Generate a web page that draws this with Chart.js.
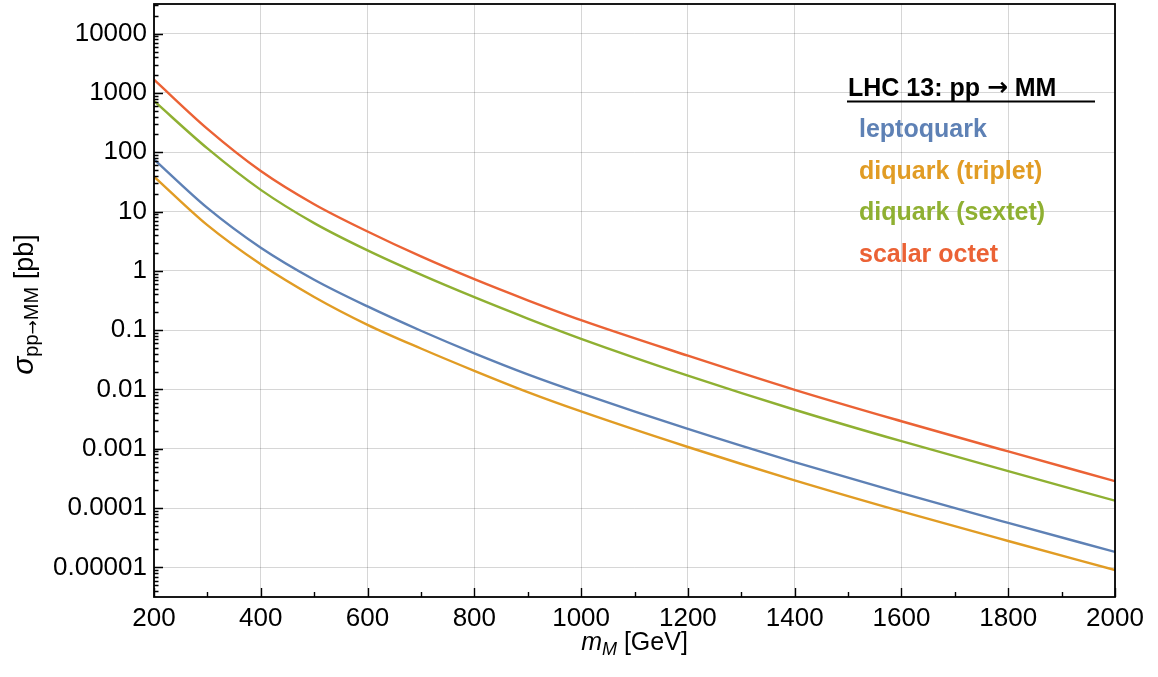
<!DOCTYPE html>
<html lang="en">
<head>
  <meta charset="UTF-8">
  <title>LHC 13: pp → MM</title>
  <style>
    body {
      margin: 0;
      background: #fff;
    }
    #wrap {
      width: 1158px;
      height: 677px;
    }
  </style>
</head>
<body>
  <div id="wrap"><canvas id="chart" width="1158" height="677"></canvas></div>

  <script src="https://cdn.jsdelivr.net/npm/chart.js"></script>
  <script>
    const mass = [200, 300, 400, 500, 600, 700, 800, 900, 1000, 1200, 1400, 1600, 1800, 2000];

    // cross sections in pb
    const leptoquark = [75.9, 11.5, 2.45, 0.708, 0.251, 0.0977, 0.0407, 0.018, 0.0086, 0.00216, 0.000596, 0.000178, 0.0000562, 0.0000182];
    const diquarkTriplet = [38.9, 5.89, 1.29, 0.363, 0.123, 0.049, 0.0206, 0.00902, 0.00426, 0.00107, 0.000294, 0.0000879, 0.0000278, 0.000009];
    const diquarkSextet = [733, 116, 23.2, 6.38, 2.21, 0.861, 0.359, 0.157, 0.0716, 0.0171, 0.00455, 0.00134, 0.00042, 0.000133];
    const scalarOctet = [1675, 248, 48.3, 13.3, 4.61, 1.75, 0.723, 0.319, 0.1476, 0.0371, 0.00986, 0.00291, 0.0009, 0.000284];

    const seriesNames = ['leptoquark', 'diquark (triplet)', 'diquark (sextet)', 'scalar octet'];
    const seriesColors = ['#5E81B5', '#E19C24', '#8FB032', '#EB6235'];

    const xTickValues = [200, 400, 600, 800, 1000, 1200, 1400, 1600, 1800, 2000];
    const yTickValues = [1e-5, 1e-4, 1e-3, 1e-2, 1e-1, 1, 10, 100, 1000, 10000];
    const yTickLabels = ['0.00001', '0.0001', '0.001', '0.01', '0.1', '1', '10', '100', '1000', '10000'];

    const FONT = "'Liberation Sans', Arial, sans-serif";

    function pts(arr) {
      return mass.map((m, i) => ({ x: m, y: arr[i] }));
    }

    // draws a run of text pieces (with sub-scripts) starting at 0,0, or centred
    function drawPieces(ctx, pieces, centred) {
      let total = 0;
      pieces.forEach(p => { ctx.font = p.font; p.w = ctx.measureText(p.text).width; total += p.w; });
      let x = centred ? -total / 2 : 0;
      ctx.textAlign = 'left';
      ctx.textBaseline = 'alphabetic';
      pieces.forEach(p => {
        ctx.font = p.font;
        ctx.fillText(p.text, x, p.dy || 0);
        x += p.w;
      });
      return total;
    }

    const decorations = {
      id: 'decorations',
      afterDraw(chart) {
        const { ctx, chartArea: a, scales } = chart;
        const xs = scales.x, ys = scales.y;
        ctx.save();
        ctx.strokeStyle = '#000';
        ctx.lineWidth = 1.4;

        // y ticks, inward, major + log minor
        ctx.beginPath();
        for (let k = -6; k <= 4; k++) {
          for (let m = 1; m <= 9; m++) {
            const v = m * Math.pow(10, k);
            if (v < ys.min || v > ys.max) continue;
            const py = Math.round(ys.getPixelForValue(v)) + 0.5;
            const len = m === 1 ? 9 : 4.5;
            ctx.moveTo(a.left, py);
            ctx.lineTo(a.left + len, py);
          }
        }
        // x ticks every 100, major every 200
        for (let v = 200; v <= 2000; v += 100) {
          const px = Math.round(xs.getPixelForValue(v)) + 0.5;
          const len = v % 200 === 0 ? 9 : 5;
          ctx.moveTo(px, a.bottom);
          ctx.lineTo(px, a.bottom - len);
        }
        ctx.stroke();

        // frame
        ctx.lineWidth = 1.8;
        ctx.strokeRect(a.left, a.top, a.right - a.left, a.bottom - a.top);

        // axis titles
        ctx.fillStyle = '#000';
        ctx.save();
        ctx.translate((a.left + a.right) / 2, 650);
        drawPieces(ctx, [
          { text: 'm', font: 'italic 25px ' + FONT },
          { text: 'M', font: 'italic 18px ' + FONT, dy: 5 },
          { text: ' [GeV]', font: '25px ' + FONT }
        ], true);
        ctx.restore();

        ctx.save();
        ctx.translate(33, (a.top + a.bottom) / 2 + 4);
        ctx.rotate(-Math.PI / 2);
        drawPieces(ctx, [
          { text: 'σ', font: 'italic 30px ' + FONT },
          { text: 'pp', font: '20px ' + FONT, dy: 5 },
          { text: '→', font: '17px "DejaVu Sans", sans-serif', dy: 5 },
          { text: 'MM', font: '20px ' + FONT, dy: 5 },
          { text: ' [pb]', font: '27px ' + FONT }
        ], true);
        ctx.restore();

        // legend
        ctx.save();
        ctx.translate(848, 96);
        ctx.fillStyle = '#000';
        drawPieces(ctx, [
          { text: 'LHC 13: pp ', font: 'bold 25px ' + FONT },
          { text: '→', font: 'bold 25px "DejaVu Sans", sans-serif', dy: -1 },
          { text: ' MM', font: 'bold 25px ' + FONT }
        ], false);
        ctx.restore();
        ctx.lineWidth = 2;
        ctx.beginPath();
        ctx.moveTo(847, 101.5);
        ctx.lineTo(1095, 101.5);
        ctx.stroke();
        ctx.font = 'bold 25px ' + FONT;
        ctx.textAlign = 'left';
        ctx.textBaseline = 'alphabetic';
        seriesNames.forEach((name, i) => {
          ctx.fillStyle = seriesColors[i];
          ctx.fillText(name, 859, 137 + i * 41.5);
        });
        ctx.restore();
      }
    };

    const series = [leptoquark, diquarkTriplet, diquarkSextet, scalarOctet];

    new Chart(document.getElementById('chart').getContext('2d'), {
      type: 'line',
      data: {
        datasets: series.map((s, i) => ({
          label: seriesNames[i],
          data: pts(s),
          borderColor: seriesColors[i],
          borderWidth: 2.4,
          pointRadius: 0,
          fill: false,
          cubicInterpolationMode: 'monotone'
        }))
      },
      options: {
        responsive: false,
        animation: false,
        layout: { padding: { top: 4, right: 43, left: 0, bottom: 0 } },
        plugins: {
          legend: { display: false },
          tooltip: { enabled: false }
        },
        scales: {
          x: {
            type: 'linear',
            min: 200,
            max: 2000,
            afterBuildTicks: s => { s.ticks = xTickValues.map(v => ({ value: v })); },
            afterFit: s => { s.height = 80; s.paddingLeft = 0; s.paddingRight = 0; },
            ticks: {
              color: '#000',
              font: { family: FONT, size: 26 },
              padding: 6,
              maxRotation: 0,
              autoSkip: false,
              callback: v => String(v)
            },
            grid: { color: 'rgba(0,0,0,0.16)', lineWidth: 1, drawTicks: false },
            border: { display: false }
          },
          y: {
            type: 'logarithmic',
            min: Math.pow(10, -5.5),
            max: Math.pow(10, 4.5),
            afterBuildTicks: s => { s.ticks = yTickValues.map(v => ({ value: v })); },
            afterFit: s => { s.width = 154; s.paddingTop = 0; s.paddingBottom = 0; },
            ticks: {
              color: '#000',
              font: { family: FONT, size: 26 },
              padding: 7,
              autoSkip: false,
              callback: (v, i) => yTickLabels[i]
            },
            grid: { color: 'rgba(0,0,0,0.16)', lineWidth: 1, drawTicks: false },
            border: { display: false }
          }
        }
      },
      plugins: [decorations]
    });
  </script>
</body>
</html>
